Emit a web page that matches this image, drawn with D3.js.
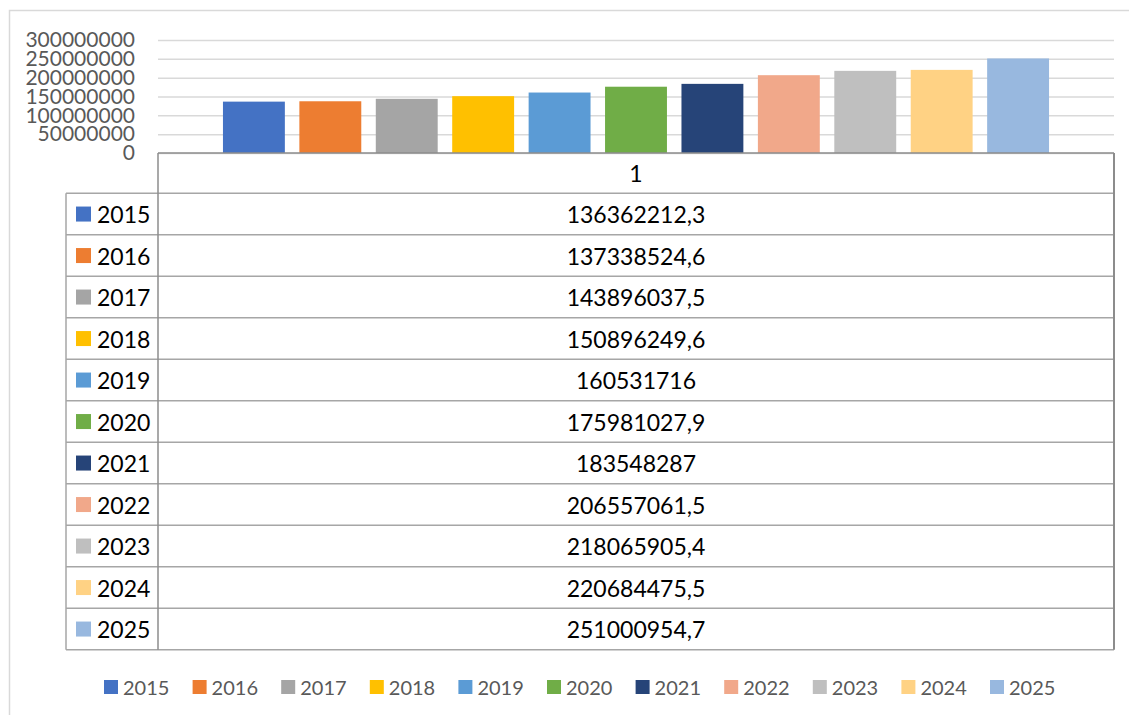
<!DOCTYPE html>
<html>
<head>
<meta charset="utf-8">
<script src="https://cdn.jsdelivr.net/npm/d3@7.9.0/dist/d3.min.js"></script>
<style>
  body { margin: 0; background: #fff; }
  svg { display: block; font-family: Lato, "Open Sans", sans-serif; }
</style>
</head>
<body>
<div id="chart"></div>
<script>
// Chart data
const years = ['2015', '2016', '2017', '2018', '2019', '2020', '2021', '2022', '2023', '2024', '2025'];
const values = [136362212.3, 137338524.6, 143896037.5, 150896249.6, 160531716, 175981027.9,
  183548287, 206557061.5, 218065905.4, 220684475.5, 251000954.7];
const valueLabels = ['136362212,3', '137338524,6', '143896037,5', '150896249,6', '160531716',
  '175981027,9', '183548287', '206557061,5', '218065905,4', '220684475,5', '251000954,7'];
const colors = ['#4472C4', '#ED7D31', '#A5A5A5', '#FFC000', '#5B9BD5', '#70AD47',
  '#264478', '#F1A88A', '#BFBFBF', '#FFD284', '#98B8DF'];
const yTicks = [0, 50000000, 100000000, 150000000, 200000000, 250000000, 300000000];
const categoryLabel = '1';

const width = 1129;
const height = 715;

// Plot area
const plot = { left: 158, right: 1114, top: 40, bottom: 153 };
// Data table under the plot
const table = { left: 66, headerBottom: 193.3, rowH: 41.5 };

const svg = d3.select('#chart')
  .append('svg')
  .attr('width', width)
  .attr('height', height);

// Outer chart frame
svg.append('rect')
  .attr('x', 9.5).attr('y', 10.5)
  .attr('width', width + 10).attr('height', height + 10)
  .attr('fill', 'none')
  .attr('stroke', '#d9d9d9')
  .attr('stroke-width', 1.5);

const y = d3.scaleLinear()
  .domain([0, 300000000])
  .range([plot.bottom, plot.top]);

const x = d3.scaleBand()
  .domain(years)
  .range([plot.left, plot.right])
  .paddingInner(0.19)
  .paddingOuter(0.85);

// Gridlines
svg.append('g')
  .attr('class', 'gridlines')
  .attr('transform', `translate(${plot.left}, 0)`)
  .call(d3.axisLeft(y).tickValues(yTicks).tickFormat('').tickSize(-(plot.right - plot.left)))
  .call(g => g.select('.domain').remove())
  .call(g => g.selectAll('line').attr('stroke', '#d9d9d9').attr('stroke-width', 1.5));

// Y axis labels
svg.append('g')
  .attr('transform', `translate(135, 0)`)
  .call(d3.axisLeft(y).tickValues(yTicks).tickFormat(d3.format('d')).tickSize(0).tickPadding(0))
  .call(g => g.select('.domain').remove())
  .call(g => g.selectAll('text')
    .attr('fill', '#595959')
    .style('font-size', '21px')
    .style('font-family', 'Lato, sans-serif'));

// Bars
svg.append('g')
  .selectAll('rect')
  .data(years)
  .join('rect')
  .attr('x', d => x(d))
  .attr('y', (d, i) => y(values[i]))
  .attr('width', x.bandwidth())
  .attr('height', (d, i) => y(0) - y(values[i]))
  .attr('fill', (d, i) => colors[i]);

// Data table
const tbl = svg.append('g').attr('class', 'data-table');
const rowY = i => table.headerBottom + table.rowH * i;
const tableBottom = rowY(years.length);
const lineColor = '#a6a6a6';

// horizontal lines
tbl.append('line')
  .attr('x1', plot.left).attr('x2', plot.right)
  .attr('y1', plot.bottom).attr('y2', plot.bottom)
  .attr('stroke', '#8c8c8c').attr('stroke-width', 1.5);

tbl.selectAll('line.row')
  .data(d3.range(years.length + 1))
  .join('line')
  .attr('class', 'row')
  .attr('x1', table.left).attr('x2', plot.right)
  .attr('y1', d => rowY(d)).attr('y2', d => rowY(d))
  .attr('stroke', lineColor).attr('stroke-width', 1.5);

// vertical lines
tbl.append('line')
  .attr('x1', table.left).attr('x2', table.left)
  .attr('y1', table.headerBottom).attr('y2', tableBottom)
  .attr('stroke', lineColor).attr('stroke-width', 1.5);
tbl.append('line')
  .attr('x1', plot.left).attr('x2', plot.left)
  .attr('y1', plot.bottom).attr('y2', tableBottom)
  .attr('stroke', '#8c8c8c').attr('stroke-width', 1.5);
tbl.append('line')
  .attr('x1', plot.right).attr('x2', plot.right)
  .attr('y1', plot.bottom).attr('y2', tableBottom)
  .attr('stroke', '#8c8c8c').attr('stroke-width', 2);

// header text
tbl.append('text')
  .attr('x', (plot.left + plot.right) / 2)
  .attr('y', (plot.bottom + table.headerBottom) / 2)
  .attr('text-anchor', 'middle')
  .attr('dominant-baseline', 'central')
  .attr('fill', '#000')
  .style('font-size', '23px')
  .text(categoryLabel);

const rows = tbl.selectAll('g.trow')
  .data(years)
  .join('g')
  .attr('class', 'trow')
  .attr('transform', (d, i) => `translate(0, ${rowY(i) + table.rowH / 2})`);

rows.append('rect')
  .attr('x', 76).attr('y', -7.5)
  .attr('width', 15).attr('height', 15)
  .attr('fill', (d, i) => colors[i]);

rows.append('text')
  .attr('x', 97)
  .attr('dominant-baseline', 'central')
  .attr('fill', '#000')
  .style('font-size', '23px')
  .text(d => d);

rows.append('text')
  .attr('x', (plot.left + plot.right) / 2)
  .attr('text-anchor', 'middle')
  .attr('dominant-baseline', 'central')
  .attr('fill', '#000')
  .style('font-size', '23px')
  .text((d, i) => valueLabels[i]);

// Legend
const legendX = d3.scalePoint()
  .domain(years)
  .range([104, 990]);

const legend = svg.append('g')
  .selectAll('g')
  .data(years)
  .join('g')
  .attr('transform', d => `translate(${legendX(d)}, 687)`);

legend.append('rect')
  .attr('x', 0).attr('y', -7)
  .attr('width', 14).attr('height', 14)
  .attr('fill', (d, i) => colors[i]);

legend.append('text')
  .attr('x', 19)
  .attr('dominant-baseline', 'central')
  .attr('fill', '#595959')
  .style('font-size', '20px')
  .text(d => d);
</script>
</body>
</html>
